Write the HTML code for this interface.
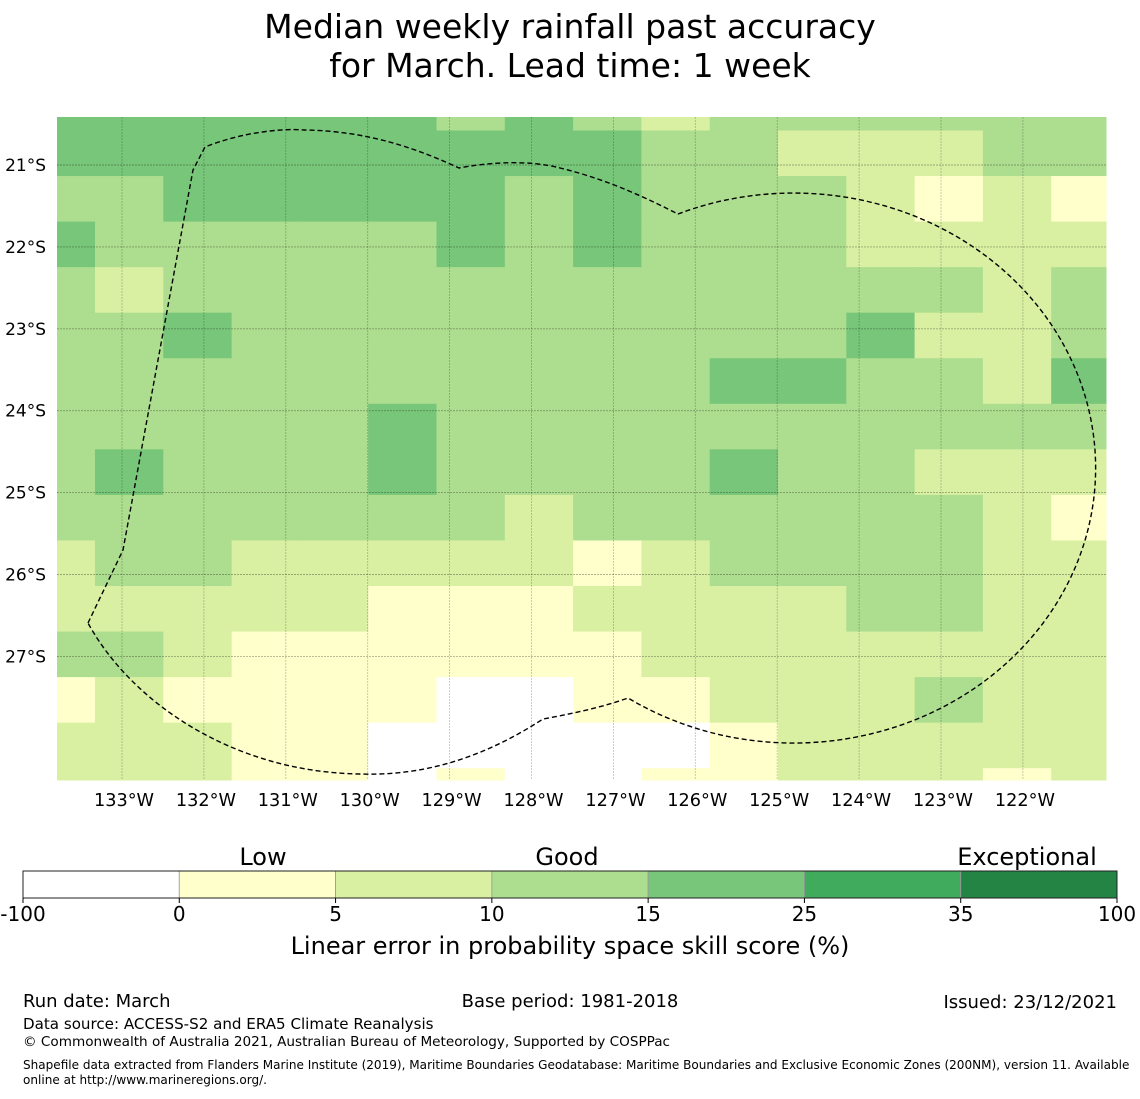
<!DOCTYPE html>
<html><head><meta charset="utf-8">
<style>
body{margin:0;background:#fff;width:1140px;height:1095px;overflow:hidden;font-family:"DejaVu Sans","Liberation Sans",sans-serif;}
svg text{font-family:"DejaVu Sans","Liberation Sans",sans-serif;fill:#000;}
</style></head>
<body>
<svg id="chart" width="1140" height="1095" xmlns="http://www.w3.org/2000/svg">
<text x="570" y="38" font-size="33" text-anchor="middle">Median weekly rainfall past accuracy</text>
<text x="570" y="77" font-size="33" text-anchor="middle">for March. Lead time: 1 week</text>
<g id="map"></g>
<g id="grid"></g>
<path fill="none" stroke="#000" stroke-width="1.4" stroke-dasharray="5,3"
 d="M88,623 L123,550 L193,170 L205,147 C240,133 280,128 305,130 C370,131 420,150 459,168 C490,162 530,160 560,168 C610,180 650,200 678,214 A302 275 0 1 1 628,698 C600,708 570,714 543,719 C480,760 420,776 360,774 C230,772 130,700 88,623 Z"/>
<g id="xticks"></g>
<g id="yticks"></g>
<g id="cbar"></g>
<text x="263" y="865" font-size="24" text-anchor="middle">Low</text>
<text x="567" y="865" font-size="24" text-anchor="middle">Good</text>
<text x="1027" y="865" font-size="24" text-anchor="middle">Exceptional</text>
<text x="570" y="954" font-size="24" text-anchor="middle">Linear error in probability space skill score (%)</text>
<text x="23" y="1007" font-size="18">Run date: March</text>
<text x="570" y="1007" font-size="18" text-anchor="middle">Base period: 1981-2018</text>
<text x="1117" y="1008" font-size="18" text-anchor="end">Issued: 23/12/2021</text>
<text x="23" y="1029" font-size="15.1">Data source: ACCESS-S2 and ERA5 Climate Reanalysis</text>
<text x="23" y="1046" font-size="13.6">© Commonwealth of Australia 2021, Australian Bureau of Meteorology, Supported by COSPPac</text>
<text x="23" y="1069" font-size="12.05">Shapefile data extracted from Flanders Marine Institute (2019), Maritime Boundaries Geodatabase: Maritime Boundaries and Exclusive Economic Zones (200NM), version 11. Available</text>
<text x="23" y="1084" font-size="12.05">online at http://www.marineregions.org/.</text>
</svg>
<script>
// Skill-score grid (rows top->bottom, cols west->east); representative bin values
const W=-10, Y=2.5, L=7.5, M=12.5, G=20;
const skillRows = [
 [G,G,G,G,G,G,M,G,M,L,M,M,M,M,M,M],
 [G,G,G,G,G,G,G,G,G,M,M,L,L,L,M,M],
 [M,M,G,G,G,G,G,M,G,M,M,M,L,Y,L,Y],
 [G,M,M,M,M,M,G,M,G,M,M,M,L,L,L,L],
 [M,L,M,M,M,M,M,M,M,M,M,M,M,M,L,M],
 [M,M,G,M,M,M,M,M,M,M,M,M,G,L,L,M],
 [M,M,M,M,M,M,M,M,M,M,G,G,M,M,L,G],
 [M,M,M,M,M,G,M,M,M,M,M,M,M,M,M,M],
 [M,G,M,M,M,G,M,M,M,M,G,M,M,L,L,L],
 [M,M,M,M,M,M,M,L,M,M,M,M,M,M,L,Y],
 [L,M,M,L,L,L,L,L,Y,L,M,M,M,M,L,L],
 [L,L,L,L,L,Y,Y,Y,L,L,L,L,M,M,L,L],
 [M,M,L,Y,Y,Y,Y,Y,Y,L,L,L,L,L,L,L],
 [Y,L,Y,Y,Y,Y,W,W,Y,Y,L,L,L,M,L,L],
 [L,L,L,Y,Y,W,W,W,W,W,Y,L,L,L,L,L],
 [L,L,L,Y,Y,W,Y,W,W,Y,Y,L,L,L,Y,L]
];
const binEdges = [-100,0,5,10,15,25,35,100];
const binColors = ["#ffffff","#ffffcc","#d9f0a3","#addd8e","#78c679","#41ab5d","#238443"];
const lonTicks = [133,132,131,130,129,128,127,126,125,124,123,122];
const latTicks = [21,22,23,24,25,26,27];
const cbarTickLabels = ["-100","0","5","10","15","25","35","100"];

const NS="http://www.w3.org/2000/svg";
function mk(tag,attrs,parent){const e=document.createElementNS(NS,tag);for(const k in attrs)e.setAttribute(k,attrs[k]);parent.appendChild(e);return e;}
const pxDeg=81.9;
function xLon(lon){return 122+(133-lon)*pxDeg;}
function yLat(lat){return 165+(lat-21)*pxDeg;}
const colW=68.3, rowH=45.55, col1X=95, row1Y=130.5, mapL=57, mapR=1106, mapT=117, mapB=780;
function colX(c){return c===0?mapL:col1X+(c-1)*colW;}
function colX2(c){return c===15?mapR:col1X+c*colW;}
function rowY(r){return r===0?mapT:row1Y+(r-1)*rowH;}
function rowY2(r){return r===15?mapB:row1Y+r*rowH;}
function colorFor(v){for(let i=0;i<binColors.length;i++){if(v<binEdges[i+1])return binColors[i];}return binColors[binColors.length-1];}

const map=document.getElementById('map');
skillRows.forEach((row,r)=>row.forEach((v,c)=>{
  const x=colX(c),y=rowY(r);
  const rect=mk('rect',{x:x,y:y,width:colX2(c)-x+0.5,height:rowY2(r)-y+0.5,fill:colorFor(v)},map);
  
  
}));

const grid=document.getElementById('grid'), xt=document.getElementById('xticks'), yt=document.getElementById('yticks');
lonTicks.forEach(l=>{
  const x=xLon(l);
  const ln=mk('line',{x1:x,y1:mapT,x2:x,y2:mapB,stroke:'#000','stroke-opacity':0.25,'stroke-width':0.8,'stroke-dasharray':'2,1'},grid);
  
  
  const t=mk('text',{x:x+2,y:806,'font-size':17.7,'text-anchor':'middle'},xt);
  t.textContent=l+'°W';
  
  
});
latTicks.forEach(l=>{
  const y=yLat(l);
  const ln=mk('line',{x1:mapL,y1:y,x2:mapR,y2:y,stroke:'#000','stroke-opacity':0.3,'stroke-width':0.9,'stroke-dasharray':'2,1'},grid);
  
  
  const t=mk('text',{x:46,y:y+6,'font-size':17,'text-anchor':'end'},yt);
  t.textContent=l+'°S';
  
  
});

const cb=document.getElementById('cbar');
const cbL=23,cbR=1117,cbT=871,cbB=898,segW=(cbR-cbL)/binColors.length;
binColors.forEach((col,i)=>{
  const r=mk('rect',{x:cbL+i*segW,y:cbT,width:segW,height:cbB-cbT,fill:col,stroke:'#999','stroke-width':0.8},cb);
  
  
});
const fr=mk('rect',{x:cbL,y:cbT,width:cbR-cbL,height:cbB-cbT,fill:'none',stroke:'#222','stroke-width':1},cb);


cbarTickLabels.forEach((lab,i)=>{
  const x=cbL+i*segW;
  mk('line',{x1:x,y1:cbB,x2:x,y2:cbB+5,stroke:'#000','stroke-width':1},cb);
  const t=mk('text',{x:x,y:921,'font-size':20,'text-anchor':'middle'},cb);
  t.textContent=lab;
  
  
});
</script>
</body></html>
